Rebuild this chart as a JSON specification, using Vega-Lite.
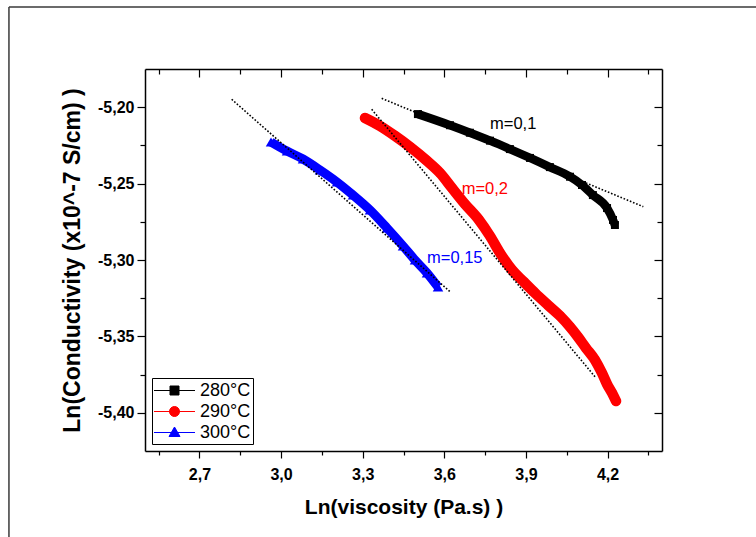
{
  "$schema": "https://vega.github.io/schema/vega-lite/v6.json",
  "width": 517,
  "height": 382,
  "autosize": {"type": "none"},
  "padding": {"left": 145, "top": 69, "right": 94, "bottom": 86},
  "background": "white",
  "config": {
    "view": {"stroke": null},
    "font": "Liberation Sans",
    "axis": {
      "grid": false,
      "domainColor": "#000",
      "domainWidth": 1.5,
      "tickColor": "#000",
      "tickWidth": 1.2,
      "labelColor": "#000",
      "titleColor": "#000",
      "labelFont": "Liberation Sans",
      "titleFont": "Liberation Sans",
      "labelFontWeight": "bold",
      "titleFontWeight": "bold",
      "labelFontSize": 16,
      "titleFontSize": 21
    }
  },
  "datasets": {
    "curves": [
      {"series": "280°C", "x": 3.503, "y": -5.2045},
      {"series": "280°C", "x": 3.621, "y": -5.2118},
      {"series": "280°C", "x": 3.694, "y": -5.2167},
      {"series": "280°C", "x": 3.768, "y": -5.2219},
      {"series": "280°C", "x": 3.841, "y": -5.2274},
      {"series": "280°C", "x": 3.915, "y": -5.2332},
      {"series": "280°C", "x": 3.988, "y": -5.2392},
      {"series": "280°C", "x": 4.062, "y": -5.2455},
      {"series": "280°C", "x": 4.106, "y": -5.2509},
      {"series": "280°C", "x": 4.146, "y": -5.2575},
      {"series": "280°C", "x": 4.198, "y": -5.266},
      {"series": "280°C", "x": 4.22, "y": -5.2738},
      {"series": "280°C", "x": 4.227, "y": -5.2771},
      {"series": "290°C", "x": 3.3085, "y": -5.2071},
      {"series": "290°C", "x": 3.3637, "y": -5.2123},
      {"series": "290°C", "x": 3.4188, "y": -5.2188},
      {"series": "290°C", "x": 3.4739, "y": -5.226},
      {"series": "290°C", "x": 3.5327, "y": -5.2346},
      {"series": "290°C", "x": 3.5842, "y": -5.2431},
      {"series": "290°C", "x": 3.6283, "y": -5.2529},
      {"series": "290°C", "x": 3.676, "y": -5.2634},
      {"series": "290°C", "x": 3.7275, "y": -5.2738},
      {"series": "290°C", "x": 3.7679, "y": -5.2843},
      {"series": "290°C", "x": 3.8047, "y": -5.2954},
      {"series": "290°C", "x": 3.8488, "y": -5.3065},
      {"series": "290°C", "x": 3.8929, "y": -5.3144},
      {"series": "290°C", "x": 3.9333, "y": -5.3216},
      {"series": "290°C", "x": 3.9811, "y": -5.3295},
      {"series": "290°C", "x": 4.0252, "y": -5.3366},
      {"series": "290°C", "x": 4.0619, "y": -5.3438},
      {"series": "290°C", "x": 4.0913, "y": -5.3504},
      {"series": "290°C", "x": 4.1207, "y": -5.3576},
      {"series": "290°C", "x": 4.1538, "y": -5.3654},
      {"series": "290°C", "x": 4.1795, "y": -5.374},
      {"series": "290°C", "x": 4.1979, "y": -5.3812},
      {"series": "290°C", "x": 4.2163, "y": -5.387},
      {"series": "290°C", "x": 4.231, "y": -5.3923},
      {"series": "300°C", "x": 2.9631, "y": -5.2228},
      {"series": "300°C", "x": 3.0219, "y": -5.2287},
      {"series": "300°C", "x": 3.0807, "y": -5.2339},
      {"series": "300°C", "x": 3.1431, "y": -5.2411},
      {"series": "300°C", "x": 3.2056, "y": -5.249},
      {"series": "300°C", "x": 3.2644, "y": -5.2575},
      {"series": "300°C", "x": 3.3269, "y": -5.2673},
      {"series": "300°C", "x": 3.3894, "y": -5.2791},
      {"series": "300°C", "x": 3.4482, "y": -5.2908},
      {"series": "300°C", "x": 3.4923, "y": -5.3},
      {"series": "300°C", "x": 3.5364, "y": -5.3085},
      {"series": "300°C", "x": 3.5768, "y": -5.3177}
    ],
    "fits": [
      {"fit": "280°C", "x": 3.3699, "y": -5.1942},
      {"fit": "280°C", "x": 4.3313, "y": -5.2651},
      {"fit": "290°C", "x": 3.3331, "y": -5.2014},
      {"fit": "290°C", "x": 4.1538, "y": -5.3764},
      {"fit": "300°C", "x": 2.8186, "y": -5.1948},
      {"fit": "300°C", "x": 3.6209, "y": -5.3207}
    ],
    "notes": [
      {"series": "280°C", "label": "m=0,1", "x": 3.7679, "y": -5.211},
      {"series": "290°C", "label": "m=0,2", "x": 3.6639, "y": -5.2535},
      {"series": "300°C", "label": "m=0,15", "x": 3.5364, "y": -5.2984}
    ]
  },
  "layer": [
    {
      "data": {"values": [{}]},
      "mark": {"type": "rule", "color": "#3a3a3a", "strokeWidth": 1.5},
      "encoding": {
        "x": {"datum": 2.0, "type": "quantitative", "scale": {"domain": [2.5, 4.4], "nice": false, "zero": false}, "axis": null},
        "x2": {"datum": 4.8},
        "y": {"datum": -5.1344, "type": "quantitative", "scale": {"domain": [-5.425, -5.175], "nice": false, "zero": false}, "axis": null}
      }
    },
    {
      "data": {"values": [{}]},
      "mark": {"type": "rule", "color": "#3a3a3a", "strokeWidth": 1.5},
      "encoding": {
        "x": {"datum": 2.0, "type": "quantitative", "axis": null},
        "y": {"datum": -5.1344, "type": "quantitative", "axis": null},
        "y2": {"datum": -5.5}
      }
    },
    {
      "data": {"name": "curves"},
      "transform": [{"filter": "datum.series === '280°C'"}],
      "mark": {"type": "line", "strokeWidth": 8.5, "strokeCap": "butt", "strokeJoin": "round", "interpolate": "monotone", "point": {"shape": "square", "size": 64, "filled": true}},
      "encoding": {
        "x": {"field": "x", "type": "quantitative",
              "axis": {"orient": "bottom", "values": [2.55, 2.85, 3.15, 3.45, 3.75, 4.05, 4.35], "labels": false, "domain": false, "tickSize": 4, "title": null}},
        "y": {"field": "y", "type": "quantitative",
              "axis": {"orient": "left", "values": [-5.225, -5.275, -5.325, -5.375], "labels": false, "domain": false, "tickSize": 5, "title": null}},
        "color": {"field": "series", "type": "nominal",
                  "scale": {"domain": ["280°C", "290°C", "300°C"], "range": ["#000000", "#ff0000", "#0000ff"]}}
      }
    },
    {
      "data": {"name": "curves"},
      "transform": [{"filter": "datum.series === '290°C'"}],
      "mark": {"type": "line", "strokeWidth": 10.5, "strokeCap": "round", "strokeJoin": "round", "interpolate": "monotone", "point": {"shape": "circle", "size": 90, "filled": true}},
      "encoding": {
        "x": {"field": "x", "type": "quantitative",
              "axis": {"orient": "top", "values": [2.7, 3.0, 3.3, 3.6, 3.9, 4.2], "labels": false, "domain": true, "tickSize": -8, "title": null}},
        "y": {"field": "y", "type": "quantitative",
              "axis": {"orient": "right", "values": [-5.4, -5.35, -5.3, -5.25, -5.2], "labels": false, "domain": true, "tickSize": -8, "title": null}},
        "color": {"field": "series", "type": "nominal"}
      }
    },
    {
      "data": {"name": "curves"},
      "transform": [{"filter": "datum.series === '300°C'"}],
      "mark": {"type": "line", "strokeWidth": 9, "strokeCap": "butt", "strokeJoin": "round", "interpolate": "monotone", "point": {"shape": "triangle-up", "size": 110, "filled": true}},
      "encoding": {
        "x": {"field": "x", "type": "quantitative",
              "axis": {"orient": "top", "values": [2.55, 2.85, 3.15, 3.45, 3.75, 4.05, 4.35], "labels": false, "domain": false, "tickSize": -5, "title": null}},
        "y": {"field": "y", "type": "quantitative",
              "axis": {"orient": "right", "values": [-5.225, -5.275, -5.325, -5.375], "labels": false, "domain": false, "tickSize": -5, "title": null}},
        "color": {"field": "series", "type": "nominal"}
      }
    },
    {
      "data": {"name": "fits"},
      "mark": {"type": "line", "color": "#000", "strokeWidth": 1.6, "strokeDash": [1.6, 1.8]},
      "encoding": {
        "x": {"field": "x", "type": "quantitative",
              "axis": {"orient": "bottom", "values": [2.7, 3.0, 3.3, 3.6, 3.9, 4.2], "domain": true, "tickSize": 7, "labelPadding": 8,
                       "labelExpr": "replace(format(datum.value, '.1f'), '.', ',')",
                       "title": "Ln(viscosity (Pa.s) )", "titlePadding": 14}},
        "y": {"field": "y", "type": "quantitative",
              "axis": {"orient": "left", "values": [-5.4, -5.35, -5.3, -5.25, -5.2], "domain": true, "tickSize": 8, "labelPadding": 3,
                       "labelExpr": "'-' + replace(format(abs(datum.value), '.2f'), '.', ',')",
                       "title": "Ln(Conductivity (x10^-7 S/cm) )", "titleFontSize": 23, "titlePadding": 13}},
        "detail": {"field": "fit", "type": "nominal"}
      }
    },
    {
      "data": {"name": "notes"},
      "mark": {"type": "text", "align": "left", "baseline": "middle", "font": "Liberation Sans", "fontSize": 16.5},
      "encoding": {
        "x": {"field": "x", "type": "quantitative", "axis": null},
        "y": {"field": "y", "type": "quantitative", "axis": null},
        "text": {"field": "label"},
        "color": {"field": "series", "type": "nominal"}
      }
    },
    {
      "description": "Key: a line with the series marker on it for each temperature",
      "data": {"name": "curves"},
      "transform": [{"filter": "false"}],
      "mark": {"type": "point", "filled": true, "strokeWidth": 1, "opacity": 1},
      "encoding": {
        "x": {"field": "x", "type": "quantitative", "axis": null},
        "y": {"field": "y", "type": "quantitative", "axis": null},
        "color": {
          "field": "series", "type": "nominal",
          "legend": {
            "title": null,
            "orient": "bottom-left",
            "offset": 7,
            "strokeColor": "#000",
            "fillColor": "#fff",
            "padding": 2,
            "rowPadding": 1,
            "labelFont": "Liberation Sans",
            "labelFontSize": 18,
            "labelFontWeight": "normal",
            "labelColor": "#000",
            "labelOffset": 25,
            "symbolSize": 400,
            "symbolStrokeWidth": 1
          }
        },
        "stroke": {"field": "series", "type": "nominal",
                   "scale": {"domain": ["280°C", "290°C", "300°C"], "range": ["#000000", "#ff0000", "#0000ff"]}},
        "shape": {"field": "series", "type": "nominal",
                  "scale": {"domain": ["280°C", "290°C", "300°C"],
                            "range": ["M-1.05,0H3.05M0.55,-0.45H1.45V0.45H0.55Z",
                                      "M-1.05,0H3.05M1.5,0A0.5,0.5 0 1,1 0.5,0A0.5,0.5 0 1,1 1.5,0Z",
                                      "M-1.05,0H3.05M1,-0.55L1.55,0.4H0.45Z"]}}
      }
    }
  ],
  "resolve": {"axis": {"x": "independent", "y": "independent"}}
}
